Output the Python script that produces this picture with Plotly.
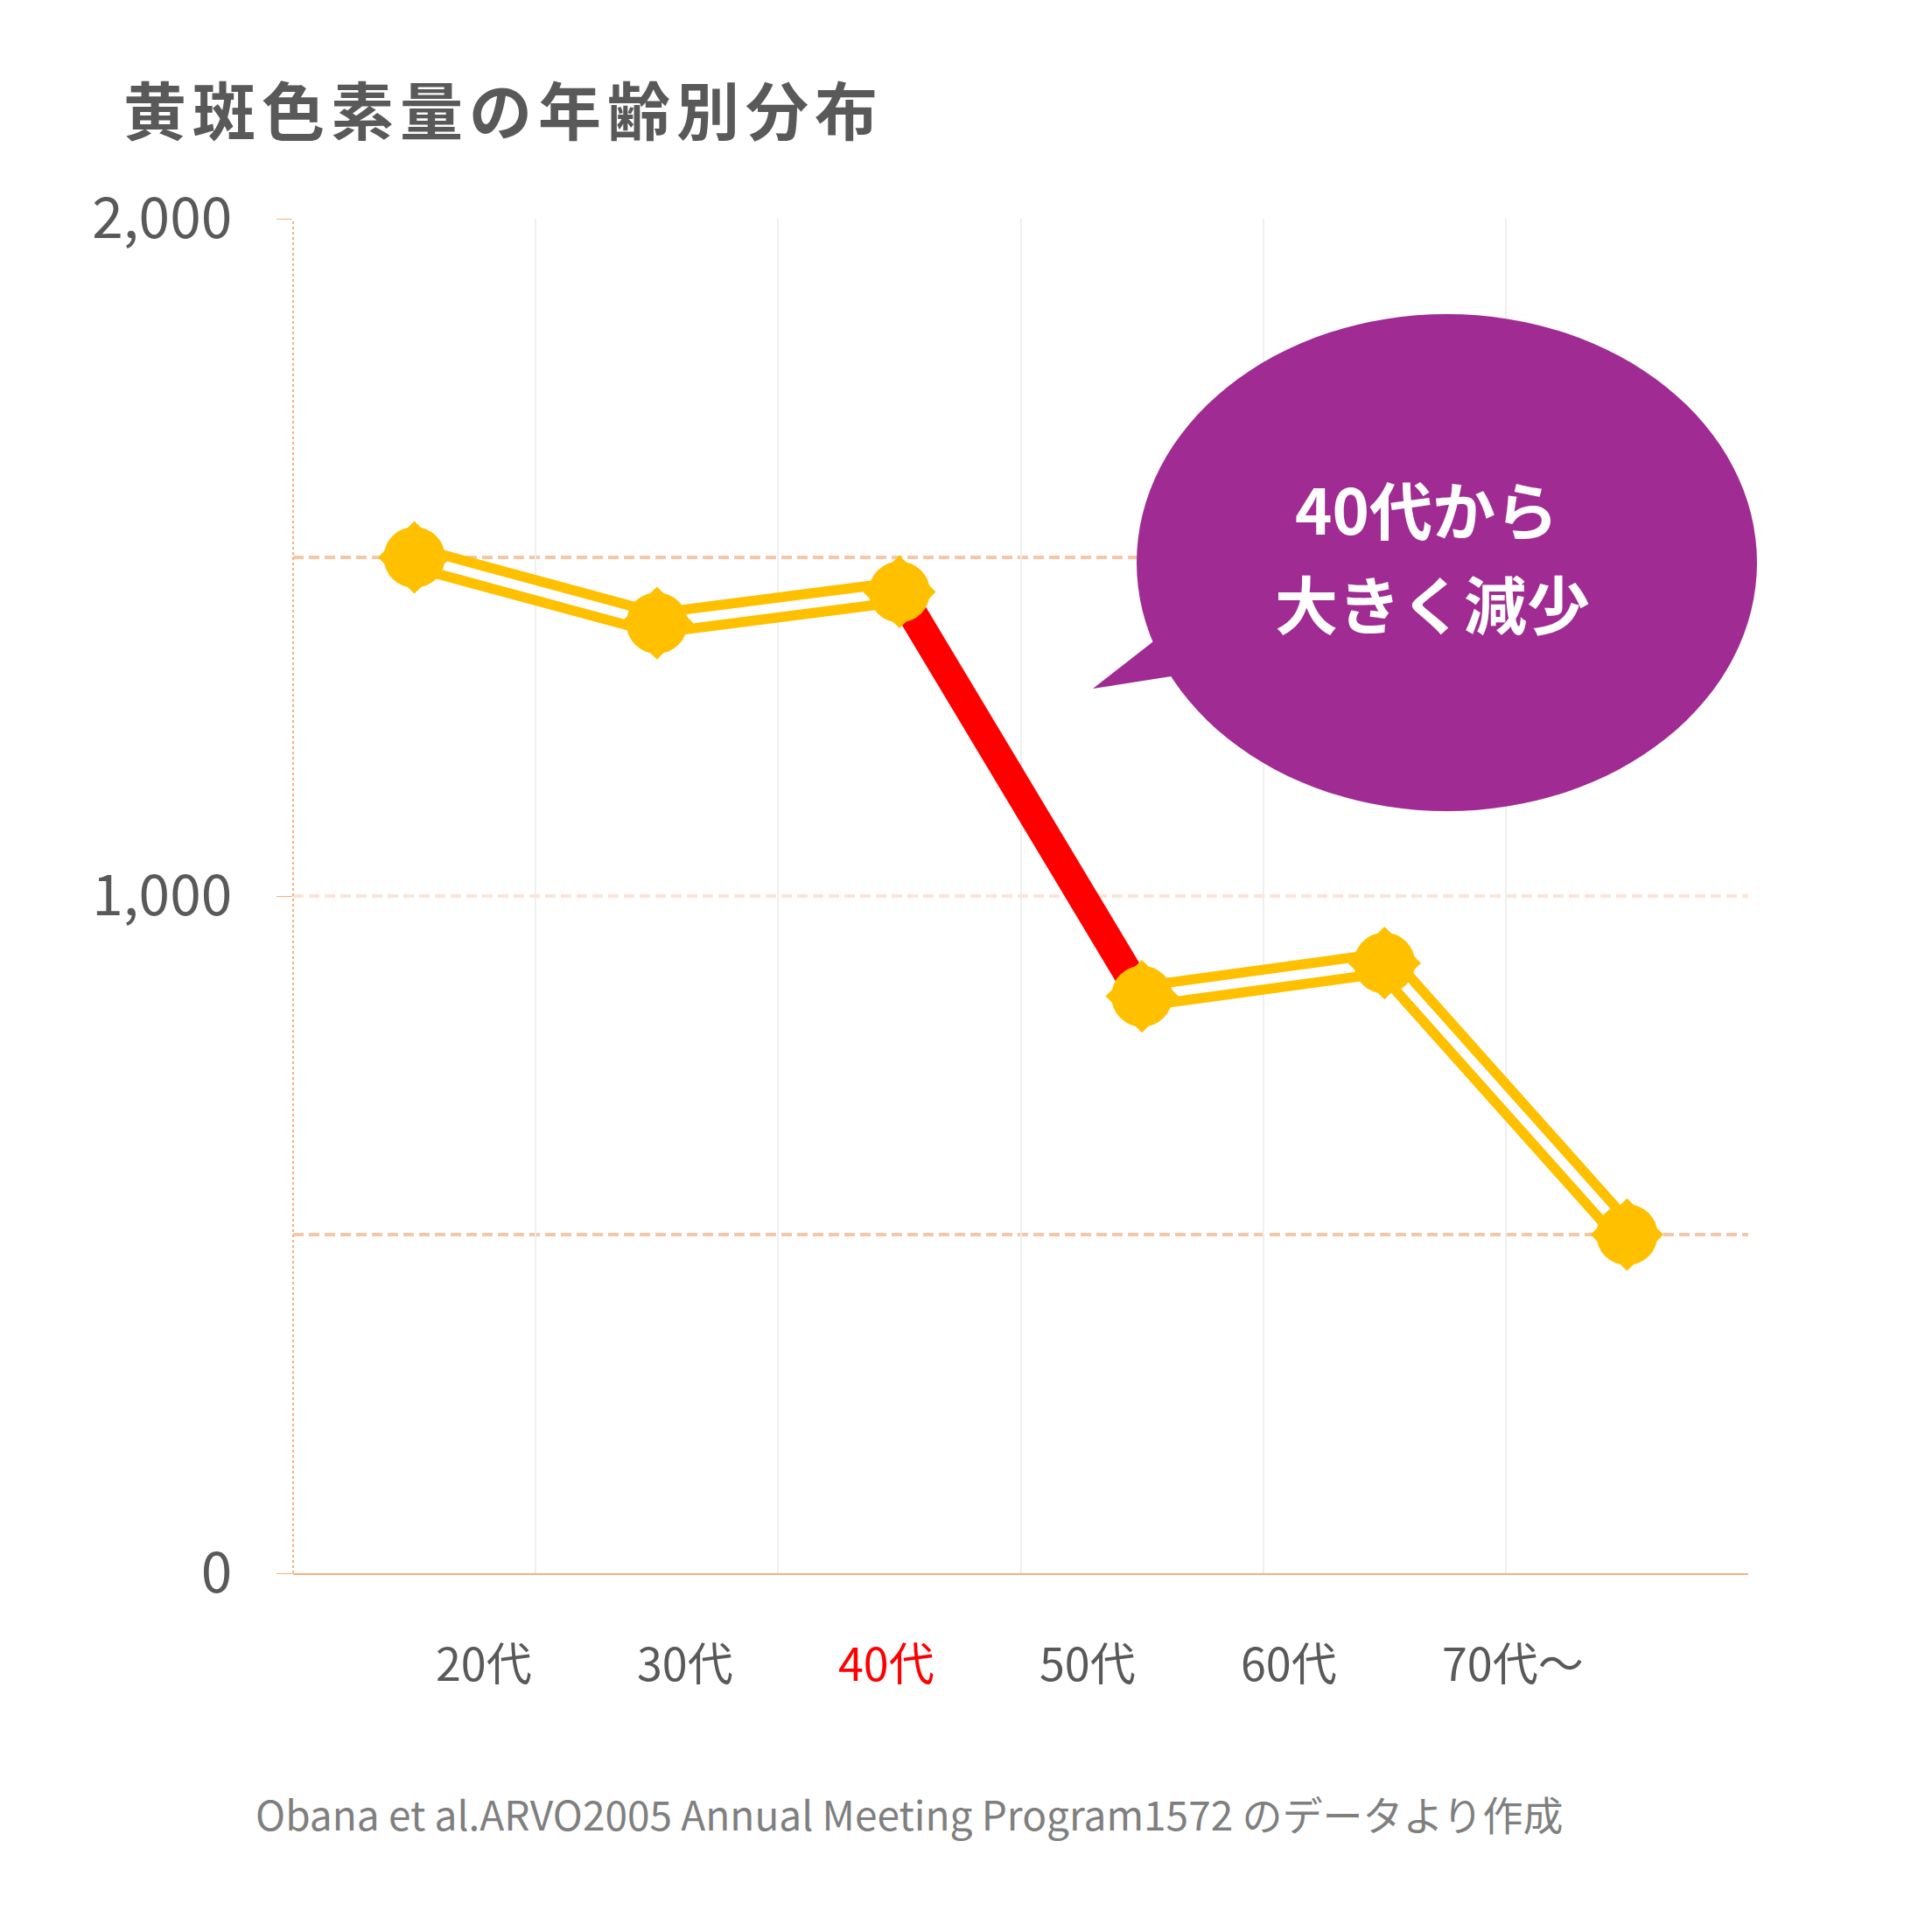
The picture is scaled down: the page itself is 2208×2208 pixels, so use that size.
import plotly.graph_objects as go

# data
ages = ["20代", "30代", "40代", "50代", "60代", "70代〜"]
pigment = [1500, 1403, 1449, 852, 901, 500]
highlight = "40代"

title_text = "黄斑色素量の年齢別分布"
bubble_lines = ["40代から", "大きく減少"]
source_text = "Obana et al.ARVO2005 Annual Meeting Program1572 のデータより作成"

YELLOW = "#FFC000"
RED = "#FF0000"
PURPLE = "#A02B93"
GREY = "#595959"
FONT = "Noto Sans CJK JP"

W, H = 2208, 2208
OFF = 7  # page offset of the rendered figure
L, R, T, B = 334 - OFF, 211 + OFF, 249 - OFF, 411 + OFF
PW, PH = W - L - R, H - T - B


def px(x, y):
    # measured pixel position -> paper coords
    return (x - OFF - L) / PW, (H - B - (y - OFF)) / PH


i_hl = ages.index(highlight)
seg1 = (ages[:i_hl + 1], pigment[:i_hl + 1])
seg2 = (ages[i_hl + 1:], pigment[i_hl + 1:])
drop = (ages[i_hl:i_hl + 2], pigment[i_hl:i_hl + 2])

fig = go.Figure()

# yellow double line (wide yellow + white core)
for xs, ys in (seg1, seg2):
    fig.add_trace(go.Scatter(x=xs, y=ys, mode="lines",
                             line=dict(color=YELLOW, width=34),
                             hoverinfo="skip", showlegend=False))
    fig.add_trace(go.Scatter(x=xs, y=ys, mode="lines",
                             line=dict(color="white", width=11),
                             hoverinfo="skip", showlegend=False))

# red drop segment
fig.add_trace(go.Scatter(x=drop[0], y=drop[1], mode="lines",
                         line=dict(color=RED, width=34),
                         hoverinfo="skip", showlegend=False))

# rounded diamond markers: circle + diamond
fig.add_trace(go.Scatter(x=ages, y=pigment, mode="markers",
                         marker=dict(symbol="circle", size=70, color=YELLOW),
                         showlegend=False))
fig.add_trace(go.Scatter(x=ages, y=pigment, mode="markers",
                         marker=dict(symbol="diamond", size=64, color=YELLOW),
                         showlegend=False))

# invisible trace for the label axis
fig.add_trace(go.Scatter(x=ages, y=[None] * len(ages), xaxis="x2",
                         mode="markers", marker=dict(opacity=0),
                         hoverinfo="skip", showlegend=False))

tick_text = [f"<span style='color:{RED}'>{a}</span>" if a == highlight else a
             for a in ages]

# bubble
ex0, ey1 = px(1298, 358)
ex1, ey0 = px(2007, 926)
tip = px(1248, 786)
b1 = px(1330, 722)
b2 = px(1350, 770)
shapes = [
    dict(type="circle", xref="paper", yref="paper", x0=ex0, x1=ex1, y0=ey0, y1=ey1,
         fillcolor=PURPLE, line=dict(width=0), layer="above"),
    dict(type="path", xref="paper", yref="paper",
         path=f"M {b1[0]},{b1[1]} L {tip[0]},{tip[1]} L {b2[0]},{b2[1]} Z",
         fillcolor=PURPLE, line=dict(width=0), layer="above"),
    # dotted y axis line
    dict(type="line", xref="paper", yref="paper", x0=0, x1=0, y0=0, y1=1,
         line=dict(color="#F4B183", width=2, dash="dot"), layer="above"),
]

annotations = []
for (cx, cy), txt in zip([px(1629, 578), px(1636, 686)], bubble_lines):
    annotations.append(dict(x=cx, y=cy, xref="paper", yref="paper", text=txt,
                            showarrow=False, xanchor="center", yanchor="middle",
                            font=dict(family=FONT, size=72, color="white", weight="bold")))
sx, sy = px(1038, 2071)
annotations.append(dict(x=sx, y=sy, xref="paper", yref="paper", text=source_text,
                        showarrow=False, xanchor="center", yanchor="middle",
                        font=dict(family=FONT, size=46, color="#7F7F7F")))

# label axis range so labels start at the measured pixel offsets
step = 230
r0 = -(497 - OFF - L) / step
r1 = r0 + PW / step

fig.update_layout(
    width=W, height=H,
    margin=dict(l=L, r=R, t=T, b=B),
    paper_bgcolor="white", plot_bgcolor="white",
    title=dict(text=f"<span style='letter-spacing:7px'>{title_text}</span>",
               x=(140 - OFF) / W, xanchor="left", y=1 - (128 - OFF) / H,
               yanchor="middle",
               font=dict(family=FONT, size=72, color=GREY, weight="bold")),
    xaxis=dict(type="category", categoryorder="array", categoryarray=ages,
               range=[-0.5, len(ages) - 0.5], showticklabels=False,
               tickson="boundaries", ticks="", showgrid=True,
               gridcolor="#EFEFEF", gridwidth=2,
               showline=True, linecolor="#F4B183", linewidth=2, zeroline=False),
    xaxis2=dict(type="category", categoryorder="array", categoryarray=ages,
                overlaying="x", anchor="y", side="bottom", range=[r0, r1],
                showgrid=False, zeroline=False, showline=False, ticks="",
                tickmode="array", tickvals=ages, ticktext=tick_text,
                ticklabelposition="outside right", ticklabelstandoff=70,
                tickfont=dict(family=FONT, size=52, color=GREY)),
    yaxis=dict(range=[0, 2000], dtick=1000, tickformat=",",
               ticks="outside", ticklen=18, tickcolor="#F4B183", tickwidth=1,
               ticklabelstandoff=38,
               tickfont=dict(family=FONT, size=64, color=GREY),
               showgrid=True, gridcolor="#FCE4D6", gridwidth=4, griddash="12px,6px",
               minor=dict(dtick=500, showgrid=True, gridcolor="#F6C6A6",
                          gridwidth=4, griddash="12px,6px"),
               zeroline=False, showline=False),
    shapes=shapes,
    annotations=annotations,
)

fig.write_html("out.html")
